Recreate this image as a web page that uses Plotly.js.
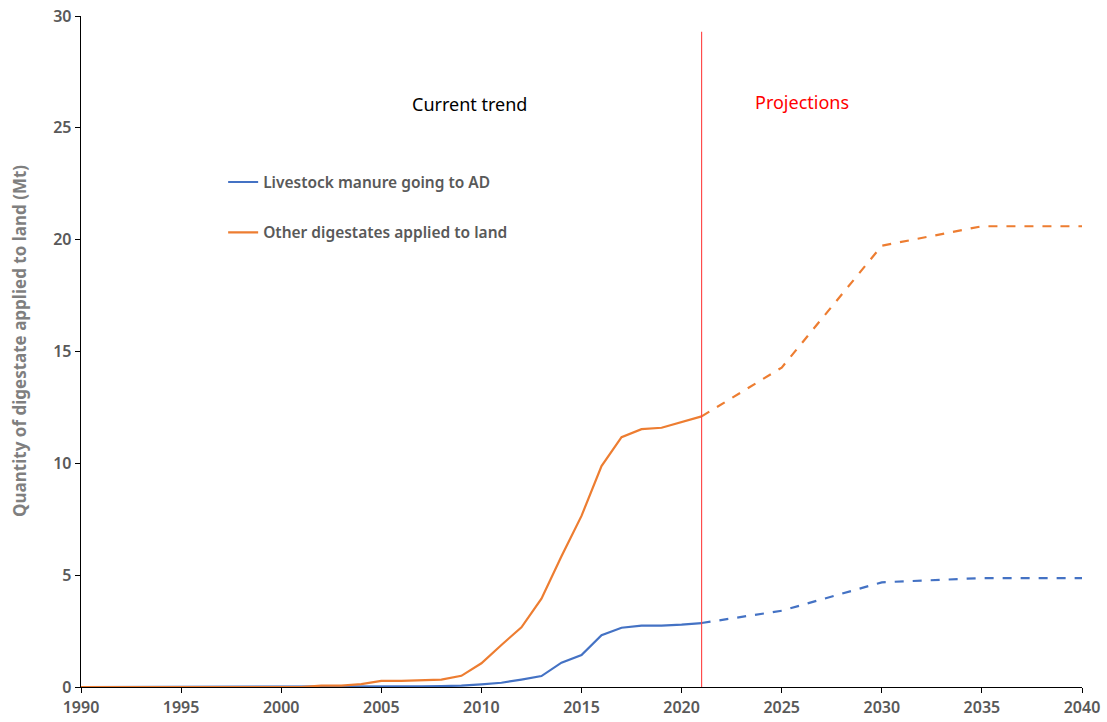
<!DOCTYPE html>
<html>
<head>
<meta charset="utf-8">
<script src="https://cdn.plot.ly/plotly-3.0.1.min.js"></script>
<style>html,body{margin:0;padding:0;background:#fff}#chart{width:1107px;height:722px}</style>
</head>
<body>
<div id="chart"></div>
<script>
// Historical years and values (Mt)
const histYears = [1990,1991,1992,1993,1994,1995,1996,1997,1998,1999,2000,2001,2002,2003,2004,2005,2006,2007,2008,2009,2010,2011,2012,2013,2014,2015,2016,2017,2018,2019,2020,2021];
const livestockHist = [0,0,0,0,0,0,0,0,0,0,0,0,0,0.01,0.01,0.02,0.02,0.03,0.04,0.06,0.12,0.19,0.33,0.49,1.09,1.43,2.32,2.65,2.74,2.74,2.79,2.86];
const otherHist = [0,0,0,0,0,0,0,0,0,0,0,0,0.06,0.06,0.13,0.27,0.27,0.3,0.33,0.5,1.06,1.88,2.67,3.95,5.85,7.65,9.88,11.17,11.53,11.59,11.83,12.1];
// Projection years and values (Mt)
const projYears = [2021,2025,2030,2035,2040];
const livestockProj = [2.86,3.41,4.68,4.87,4.87];
const otherProj = [12.1,14.28,19.73,20.6,20.6];
// Labels
const seriesNames = ["Livestock manure going to AD","Other digestates applied to land"];
const yTitle = "Quantity of digestate applied to land (Mt)";
const dividerYear = 2021;
const xTicks = [1990,1995,2000,2005,2010,2015,2020,2025,2030,2035,2040];
const yTicks = [0,5,10,15,20,25,30];

const blue = "#4472C4", orange = "#ED7D31";
const traces = [
  {x: histYears, y: livestockHist, type: "scatter", mode: "lines", name: seriesNames[0],
   line: {color: blue, width: 2.2}, legend: "legend"},
  {x: histYears, y: otherHist, type: "scatter", mode: "lines", name: seriesNames[1],
   line: {color: orange, width: 2.2}, legend: "legend2"},
  {x: projYears, y: livestockProj, type: "scatter", mode: "lines", showlegend: false,
   line: {color: blue, width: 2.2, dash: "dash"}},
  {x: projYears, y: otherProj, type: "scatter", mode: "lines", showlegend: false,
   line: {color: orange, width: 2.2, dash: "dash"}}
];

const tickFont = {family: "Noto Sans", size: 16, color: "#595959", weight: 600};
const legendFont = {family: "Noto Sans", size: 15.5, color: "#595959", weight: 600};

const layout = {
  width: 1107, height: 722,
  margin: {l: 81, r: 25, t: 16, b: 35},
  paper_bgcolor: "#fff", plot_bgcolor: "#fff",
  showlegend: true,
  xaxis: {
    range: [1990, 2040], tickvals: xTicks, ticktext: xTicks.map(String),
    showgrid: false, zeroline: false, showline: true, linecolor: "#000", linewidth: 1.3,
    ticks: "outside", ticklen: 5, tickcolor: "#000", tickfont: tickFont
  },
  yaxis: {
    range: [0, 30], tickvals: yTicks, ticktext: yTicks.map(String),
    showgrid: false, zeroline: false, showline: true, linecolor: "#000", linewidth: 1.3,
    ticks: "outside", ticklen: 5, tickcolor: "#000", tickfont: tickFont
  },
  legend: {x: 0.142, y: 0.752, xanchor: "left", yanchor: "middle", bgcolor: "rgba(0,0,0,0)",
           font: legendFont, itemwidth: 30},
  legend2: {x: 0.142, y: 0.677, xanchor: "left", yanchor: "middle", bgcolor: "rgba(0,0,0,0)",
            font: legendFont, itemwidth: 30},
  shapes: [{type: "line", xref: "x", yref: "y", x0: dividerYear, x1: dividerYear,
            y0: -0.4, y1: 29.3, line: {color: "#FF4040", width: 1.1}}],
  annotations: [
    {text: yTitle, xref: "paper", yref: "paper", x: -0.061, y: 0.5157, textangle: -90,
     showarrow: false, xanchor: "center", yanchor: "middle",
     font: {family: "Noto Sans", size: 17, color: "#7F7F7F", weight: "bold"}},
    {text: "Current trend", xref: "x", yref: "y", x: 2009.4, y: 26.05, showarrow: false,
     font: {family: "Noto Sans", size: 18, color: "#000"}},
    {text: "Projections", xref: "x", yref: "y", x: 2026.0, y: 26.15, showarrow: false,
     font: {family: "Noto Sans", size: 18, color: "#FF0000"}}
  ]
};

Plotly.newPlot("chart", traces, layout, {displayModeBar: false, staticPlot: true});
</script>
</body>
</html>
